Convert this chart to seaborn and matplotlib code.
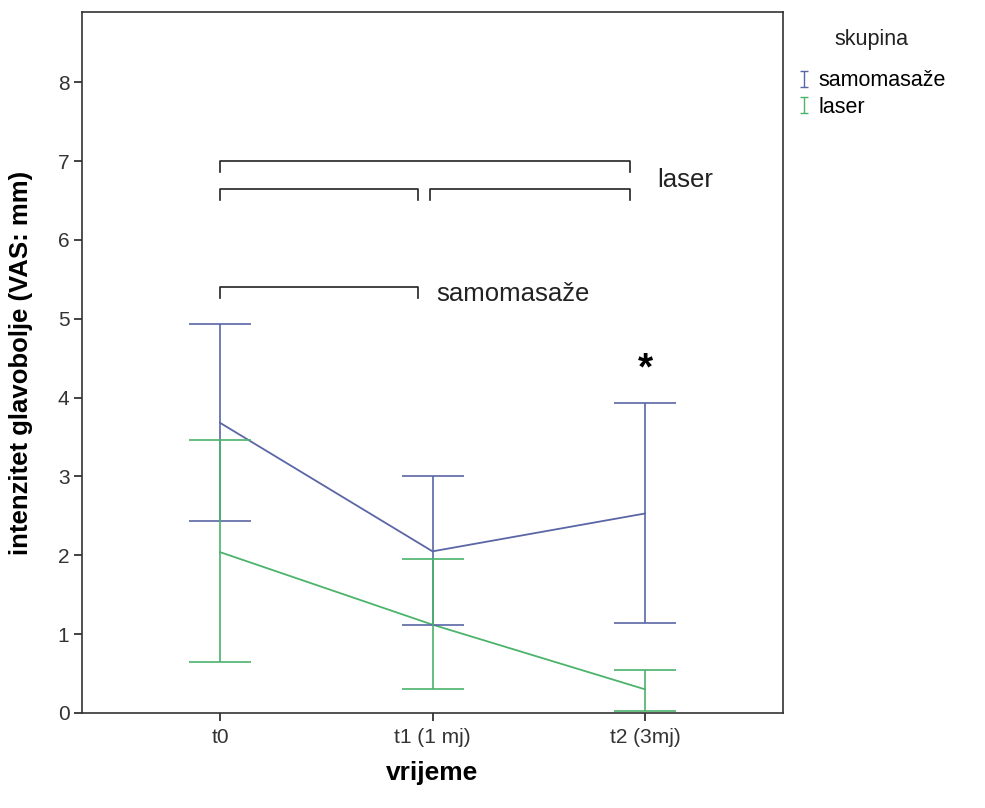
import matplotlib
matplotlib.use("Agg")
import matplotlib.pyplot as plt
import seaborn as sns
import pandas as pd
from matplotlib.lines import Line2D
from matplotlib.path import Path

# ---- data ----
times = ["t0", "t1 (1 mj)", "t2 (3mj)"]
groups = ["samomasaže", "laser"]
mean_samo = [3.68, 2.05, 2.53]
low_samo = [2.44, 1.12, 1.14]
high_samo = [4.93, 3.00, 3.93]
mean_laser = [2.04, 1.12, 0.30]
low_laser = [0.65, 0.30, 0.02]
high_laser = [3.46, 1.95, 0.54]

# significance brackets
br_laser_y = [7.0, 6.65, 6.65]
br_laser_x = [(0, 1.93), (0, 0.93), (0.99, 1.93)]
br_samo_y = [5.40]
br_samo_x = [(0, 0.93)]
star_y = 4.36

colors = {"samomasaže": "#5a66a6", "laser": "#4cb36b"}

plt.rcParams['font.family'] = ['Liberation Sans', 'DejaVu Sans']

df = pd.DataFrame({
    "vrijeme": times * 2,
    "skupina": [groups[0]] * 3 + [groups[1]] * 3,
    "mean": mean_samo + mean_laser,
    "low": low_samo + low_laser,
    "high": high_samo + high_laser,
})

fig = plt.figure(figsize=(9.85, 8.08), dpi=100)
ax = fig.add_axes([0.0832, 0.1176, 0.7118, 0.8675])

sns.lineplot(data=df, x="vrijeme", y="mean", hue="skupina", palette=colors,
             sort=False, lw=1.3, legend=False, ax=ax)

ibar = Path([(-0.5, -1), (0.5, -1), (0, -1), (0, 1), (-0.5, 1), (0.5, 1)],
            [Path.MOVETO, Path.LINETO, Path.MOVETO, Path.LINETO, Path.MOVETO, Path.LINETO])

handles = []
for g in groups:
    sub = df[df.skupina == g]
    xs = [times.index(t) for t in sub.vrijeme]
    m = sub["mean"].values
    err = [m - sub["low"].values, sub["high"].values - m]
    ax.errorbar(xs, m, yerr=err, fmt='none', ecolor=colors[g],
                elinewidth=1.2, capsize=22.5, capthick=1.2)
    handles.append(Line2D([0], [0], marker=ibar, color=colors[g], markerfacecolor='none',
                          markeredgewidth=1.0, linestyle='none', markersize=11, label=g))

def bracket(x0, x1, y, h=0.14):
    ax.plot([x0, x0, x1, x1], [y - h, y, y, y - h], color="#222222", lw=1.2)

for (x0, x1), y in zip(br_laser_x, br_laser_y):
    bracket(x0, x1, y)
for (x0, x1), y in zip(br_samo_x, br_samo_y):
    bracket(x0, x1, y)
ax.text(2.06, 6.76, "laser", fontsize=18.5, va="center", ha="left", color="#222222")
ax.text(1.02, 5.32, "samomasaže", fontsize=18.5, va="center", ha="left", color="#222222")
ax.text(2.0, star_y, "*", fontsize=28, fontweight="bold", ha="center", va="center")

ax.set_xlim(-0.65, 2.65)
ax.set_ylim(0, 8.89)
ax.set_xticks(range(3))
ax.set_xticklabels(times)
ax.set_yticks(range(9))
ax.tick_params(axis='both', labelsize=15, direction='out', length=6, width=1.2,
               colors="#222222", labelcolor="#333333")
ax.tick_params(axis='y', pad=3)
ax.tick_params(axis='x', pad=5)
ax.set_xlabel("vrijeme", fontsize=19, fontweight="bold", labelpad=10)
ax.set_ylabel("intenzitet glavobolje (VAS: mm)", fontsize=18.5, fontweight="bold", labelpad=18)
for s in ax.spines.values():
    s.set_color("#333333")
    s.set_linewidth(1.2)
ax.set_facecolor("white")
ax.grid(False)

fig.text(0.885, 0.951, "skupina", fontsize=15.5, ha="center", va="center", color="#222222")
fig.legend(handles=handles, loc="upper left",
           bbox_to_anchor=(0.81, 0.913), frameon=False, fontsize=15.5,
           handlelength=0.6, handletextpad=0.35, labelspacing=0.25,
           borderaxespad=0, borderpad=0)

fig.savefig("out.png", dpi=100)
